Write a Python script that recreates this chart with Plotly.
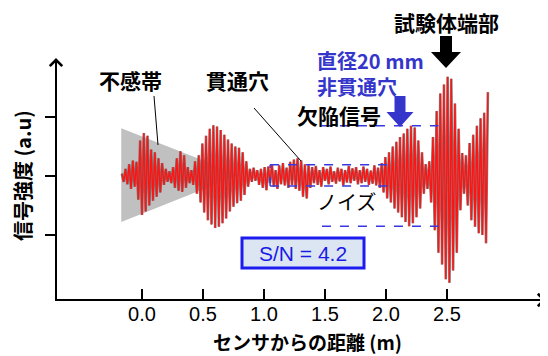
import numpy as np
import plotly.graph_objects as go

# ---------------- data ----------------
# signal sampled every half-cycle, starting at distance -0.165 m, step 0.015 m
signal_start = -0.165
signal_step = 0.015
signal_values = [
    0.04, -0.1, 0.12, -0.14, 0.2, -0.22, 0.26, -0.18, 0.24, -0.4,
    0.6, -0.66, 0.73, -0.6, 0.68, -0.5, 0.45, -0.42, 0.4, -0.35,
    0.3, -0.28, 0.22, -0.15, 0.12, -0.1, 0.08, -0.12, 0.15, -0.2,
    0.3, -0.25, 0.42, -0.27, 0.35, -0.2, 0.15, -0.12, 0.1, -0.15,
    0.25, -0.3, 0.35, -0.45, 0.55, -0.62, 0.68, -0.75, 0.8, -0.82,
    0.86, -0.88, 0.84, -0.86, 0.78, -0.8, 0.7, -0.72, 0.62, -0.6,
    0.55, -0.52, 0.5, -0.46, 0.48, -0.42, 0.4, -0.32, 0.25, -0.18,
    0.12, -0.1, 0.14, -0.08, 0.1, -0.15, 0.12, -0.2, 0.15, -0.24,
    0.16, -0.12, 0.2, -0.18, 0.1, -0.22, 0.18, -0.14, 0.22, -0.16,
    0.14, -0.2, 0.24, -0.15, 0.28, -0.22, 0.3, -0.25, 0.26, -0.35,
    0.2, -0.38, 0.18, -0.2, 0.15, -0.12, 0.17, -0.15, 0.1, -0.18,
    0.15, -0.08, 0.12, -0.14, 0.16, -0.1, 0.08, -0.13, 0.14, -0.09,
    0.12, -0.16, 0.1, -0.11, 0.17, -0.12, 0.13, -0.08, 0.15, -0.14,
    0.1, -0.12, 0.16, -0.1, 0.12, -0.15, 0.09, -0.13, 0.18, -0.16,
    0.14, -0.2, 0.22, -0.28, 0.32, -0.38, 0.4, -0.45, 0.5, -0.55,
    0.58, -0.62, 0.66, -0.7, 0.72, -0.78, 0.8, -0.85, 0.85, -0.8,
    0.82, -0.7, 0.6, -0.55, 0.4, -0.3, 0.2, -0.22, 0.25, -0.45,
    0.66, -0.92, 1.1, -1.3, 1.4, -1.5, 1.55, -1.75, 1.68, -1.81,
    1.65, -1.6, 1.23, -1.3, 0.8, -0.58, 0.39, -0.3, 0.35, -0.5,
    0.56, -0.75, 0.7, -0.86, 0.85, -0.97, 0.98, -1.0, 1.07, -1.14,
    1.42,
]
dead_zone_x = [-0.17, 0.8, -0.17]
dead_zone_y = [0.81, 0.02, -0.78]

noise_band = [1.05, 2.01, -0.17, 0.19]      # x0, x1, y_low, y_high
defect_band = [1.475, 2.43, -0.85, 0.85]

x_tick_vals = [0.0, 0.5, 1.0, 1.5, 2.0, 2.5]
x_tick_text = ["0.0", "0.5", "1.0", "1.5", "2.0", "2.5"]
y_tick_vals = [-1, 0, 1]

sn_text = "S/N = 4.2"

# ---------------- layout geometry (page pixels; page body has an 8px margin) ----------------
OFF = 8
W, H = 540, 348
PLOT_L, PLOT_R, PLOT_T, PLOT_B = 56, 544, 60, 300   # page pixel edges of plot area
ML, MR, MT, MB = PLOT_L - OFF, W - (PLOT_R - OFF), PLOT_T - OFF, H - (PLOT_B - OFF)
PXU = 122.0
PYU = 59.0
X_RANGE = [(PLOT_L - 142) / PXU, (PLOT_R - 142) / PXU]
Y_RANGE = [(176 - PLOT_B) / PYU, (176 - PLOT_T) / PYU]


def qx(px):  # page pixel -> paper x
    return (px - PLOT_L) / (PLOT_R - PLOT_L)


def qy(py):  # page pixel -> paper y
    return (PLOT_B - py) / (PLOT_B - PLOT_T)


signal_x = signal_start + signal_step * np.arange(len(signal_values))

fig = go.Figure()
fig.add_trace(go.Scatter(x=dead_zone_x, y=dead_zone_y, fill="toself",
                         fillcolor="#c0c0c0", line=dict(width=0),
                         mode="lines", hoverinfo="skip"))
fig.add_trace(go.Scatter(x=signal_x, y=signal_values, mode="lines",
                         line=dict(color="rgba(100,100,100,0.8)", width=2.6)))
fig.add_trace(go.Scatter(x=signal_x, y=signal_values, mode="lines",
                         line=dict(color="#ff1414", width=1.4)))

BLUE_DASH = dict(color="#3838e0", width=1.5, dash="dash")
shapes = []
# noise band
shapes.append(dict(type="line", x0=noise_band[0], x1=noise_band[1], y0=noise_band[3], y1=noise_band[3], line=BLUE_DASH))
shapes.append(dict(type="line", x0=noise_band[0], x1=noise_band[1], y0=noise_band[2], y1=noise_band[2], line=BLUE_DASH))
shapes.append(dict(type="line", x0=noise_band[0], x1=noise_band[0], y0=noise_band[2], y1=noise_band[3], line=BLUE_DASH))
# defect band
shapes.append(dict(type="line", x0=defect_band[0], x1=defect_band[1], y0=defect_band[3], y1=defect_band[3], line=BLUE_DASH))
shapes.append(dict(type="line", x0=defect_band[0], x1=defect_band[1], y0=defect_band[2], y1=defect_band[2], line=BLUE_DASH))

# leader lines
for (a, b, c, d) in [(154, 96, 158, 145), (254, 108, 301, 161)]:
    shapes.append(dict(type="line", xref="paper", yref="paper",
                       x0=qx(a), y0=qy(b), x1=qx(c), y1=qy(d),
                       line=dict(color="black", width=1)))

# axis lines
shapes.append(dict(type="line", xref="paper", yref="paper", x0=qx(55), x1=qx(543),
                   y0=qy(300), y1=qy(300), line=dict(color="black", width=2)))
shapes.append(dict(type="line", xref="paper", yref="paper", x0=qx(56), x1=qx(56),
                   y0=qy(301), y1=qy(61), line=dict(color="black", width=2)))


def block_arrow(cx, ytop, ybot, shaft_w, head_w, head_h, color):
    pts = [(cx - shaft_w / 2, ytop), (cx + shaft_w / 2, ytop),
           (cx + shaft_w / 2, ybot - head_h), (cx + head_w / 2, ybot - head_h),
           (cx, ybot), (cx - head_w / 2, ybot - head_h),
           (cx - shaft_w / 2, ybot - head_h)]
    path = "M " + " L ".join(f"{qx(a):.5f},{qy(b):.5f}" for a, b in pts) + " Z"
    return dict(type="path", xref="paper", yref="paper", path=path,
                fillcolor=color, line=dict(width=0))


shapes.append(block_arrow(446, 36, 68, 12, 30, 16, "black"))
shapes.append(block_arrow(400, 96, 127, 11, 27, 15, "#3535cc"))

# S/N box
shapes.append(dict(type="rect", xref="paper", yref="paper",
                   x0=qx(242), x1=qx(364), y0=qy(268), y1=qy(238),
                   fillcolor="#dce6f2", line=dict(color="#1c1cf0", width=3)))

JP = "Noto Sans CJK JP"
ann = []


def label(text, px, py, size=21, color="black", xanchor="center", family=JP, angle=0, align="center"):
    ann.append(dict(xref="paper", yref="paper", x=qx(px), y=qy(py), text=text,
                    showarrow=False, xanchor=xanchor, yanchor="middle", textangle=angle,
                    align=align, font=dict(family=family, size=size, color=color)))


label("<b>不感帯</b>", 130, 80)
label("<b>貫通穴</b>", 237, 80)
label("<b>試験体端部</b>", 446, 22)
label("<b>直径20 mm<br>非貫通穴</b>", 315, 73, size=20, color="#3535cc", xanchor="left", align="left")
label("<b>欠陥信号</b>", 339, 115)
label("ノイズ", 346, 201, size=20)
label(sn_text, 303, 253, size=21, color="#1a1ae6", family="Liberation Sans")

# axis titles
label("<b>センサからの距離 (m)</b>", 307, 341, size=19)
label("<b>信号強度 (a.u)</b>", 22, 176, size=20, angle=-90)

# arrow heads of the axes
ann.append(dict(xref="paper", yref="paper", x=qx(546), y=qy(300), ax=-30, ay=0,
                text="", showarrow=True, arrowhead=4, arrowsize=1.2,
                arrowwidth=2, arrowcolor="black"))
ann.append(dict(xref="paper", yref="paper", x=qx(56), y=qy(58), ax=0, ay=30,
                text="", showarrow=True, arrowhead=4, arrowsize=1.2,
                arrowwidth=2, arrowcolor="black"))

fig.update_layout(
    width=W, height=H, margin=dict(l=ML, r=MR, t=MT, b=MB),
    paper_bgcolor="white", plot_bgcolor="white", showlegend=False,
    shapes=shapes, annotations=ann,
    xaxis=dict(range=X_RANGE, showgrid=False, zeroline=False, showline=False,
               tickvals=x_tick_vals, ticktext=x_tick_text, ticks="inside", ticklen=11,
               tickwidth=1.5, tickcolor="black",
               tickfont=dict(family="Liberation Sans", size=20, color="black")),
    yaxis=dict(range=Y_RANGE, showgrid=False, zeroline=False, showline=False,
               tickvals=y_tick_vals, ticks="outside", ticklen=10, tickwidth=1.5,
               tickcolor="black", showticklabels=False),
)

fig.write_html("out.html")
